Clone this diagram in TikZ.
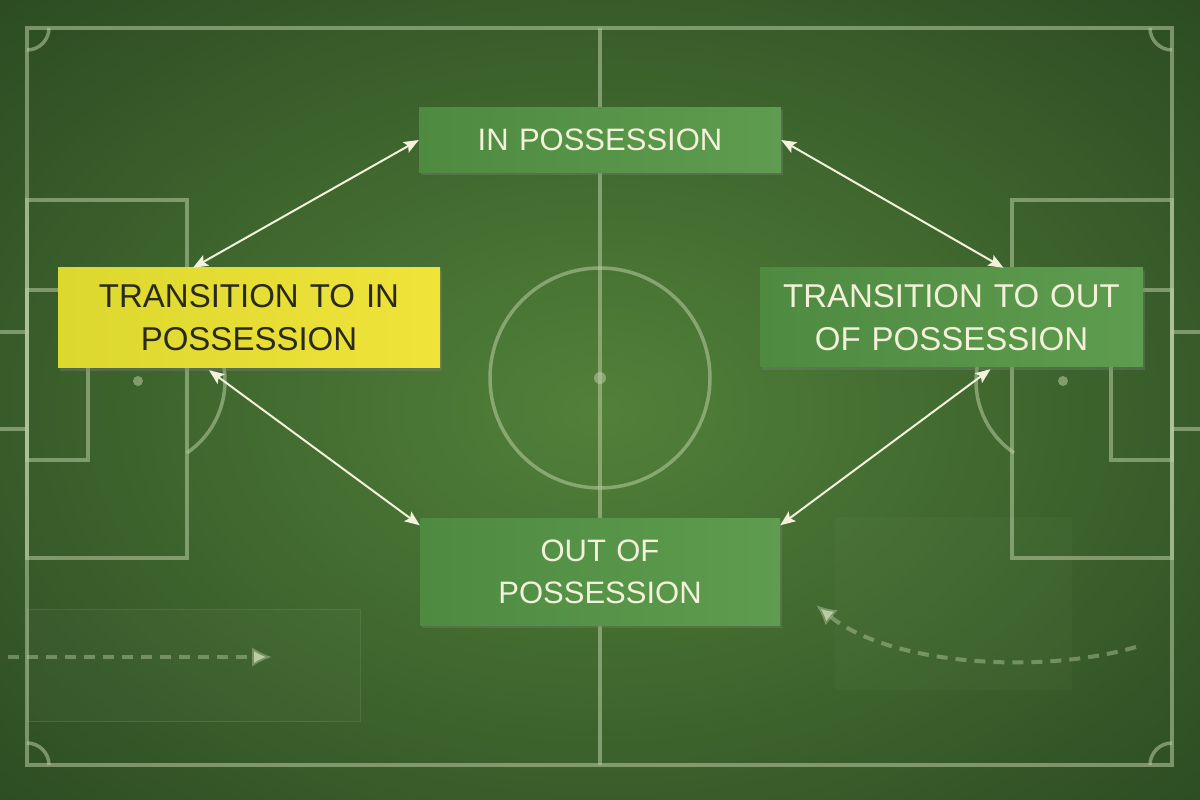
\documentclass[tikz,border=0pt]{standalone}
\usepackage{fontspec}
\setmainfont{Liberation Sans}
\usetikzlibrary{arrows.meta, shadows}
\definecolor{grass}{HTML}{52813A}
\definecolor{grassdark}{HTML}{0F2210}
\definecolor{chalk}{HTML}{B9CCA2}
\definecolor{boxgreen}{HTML}{4E8B41}
\definecolor{boxgreenlt}{HTML}{5E9C4F}
\definecolor{cream}{HTML}{F3F1DA}
\definecolor{lemonleft}{HTML}{DCD82E}
\definecolor{lemon}{HTML}{F0E33A}
\definecolor{ink}{HTML}{2A2A1C}
\tikzstyle{every node}=[font=\fontsize{31}{42}\selectfont]
\tikzstyle{block} = [rectangle, text centered, inner sep=0pt, drop shadow={opacity=0.35, shadow xshift=2pt, shadow yshift=-3pt}]
\tikzstyle{greenblock} = [block, left color=boxgreen, right color=boxgreenlt, text=cream]
\tikzstyle{yellowblock} = [block, left color=lemonleft, right color=lemon, text=ink]
\tikzstyle{bigtext} = [font=\fontsize{33}{43}\selectfont]
\tikzstyle{pitch} = [draw=chalk, draw opacity=0.55, line width=3.5pt]
\tikzstyle{hint} = [draw=chalk, draw opacity=0.45, line width=4pt, dash pattern=on 11pt off 8pt, -{Latex[length=20pt, width=20pt]}]
\tikzstyle{line} = [draw=cream, line width=2pt, {Stealth[length=15pt, width=12pt, inset=3pt]}-{Stealth[length=15pt, width=12pt, inset=3pt]}]

\begin{document}
\begin{tikzpicture}[x=1pt, y=1pt]
    % Grass
    \useasboundingbox (0,0) rectangle (1200,800);
    \begin{scope}
        \clip (0,0) rectangle (1200,800);
        \shade[inner color=grass, outer color=grassdark] (-900,-640) rectangle (2100,1420);
    \end{scope}
    \fill[white, opacity=0.025] (27,190) rectangle (360,78);
    \draw[chalk, opacity=0.15, line width=1pt] (27,190) rectangle (360,78);
    \fill[chalk, opacity=0.04] (835,283) rectangle (1072,110);
    % Pitch markings
    \path[pitch] (27,35) rectangle (1172,772);
    \path[pitch] (600,35) -- (600,772);
    \path[pitch] (600,422) circle (110);
    \fill[chalk, opacity=0.55] (600,422) circle (6);
    \path[pitch] (27,600) rectangle (187,242);
    \path[pitch] (27,510) rectangle (88,340);
    \path[pitch] (0,468) -- (27,468) (0,371) -- (27,371);
    \fill[chalk, opacity=0.55] (138,419) circle (5);
    \path[pitch] (138,419) ++(-55.7:87) arc[start angle=-55.7, end angle=55.7, radius=87];
    \path[pitch] (1012,600) rectangle (1172,242);
    \path[pitch] (1111,510) rectangle (1172,340);
    \path[pitch] (1172,468) -- (1200,468) (1172,371) -- (1200,371);
    \fill[chalk, opacity=0.55] (1063,419) circle (5);
    \path[pitch] (1063,419) ++(124.3:87) arc[start angle=124.3, end angle=235.7, radius=87];
    \path[pitch] (49,772) arc[start angle=0, end angle=-90, radius=22];
    \path[pitch] (1150,772) arc[start angle=180, end angle=270, radius=22];
    \path[pitch] (49,35) arc[start angle=0, end angle=90, radius=22];
    \path[pitch] (1150,35) arc[start angle=180, end angle=90, radius=22];
    % Runs
    \path[hint] (8,143) -- (272,143);
    \path[hint] (1136,153) .. controls (1040,125) and (890,135) .. (816,195);
    % Place nodes
    \node [greenblock, text width=362pt, minimum height=65pt] (inposs) at (600,660) {IN POSSESSION};
    \node [yellowblock, bigtext, text width=382pt, minimum height=100pt] (toin) at (249,482) {TRANSITION TO IN\\POSSESSION};
    \node [greenblock, bigtext, text width=383pt, minimum height=99pt] (toout) at (951.5,482.5) {TRANSITION TO OUT\\OF POSSESSION};
    \node [greenblock, text width=360pt, minimum height=107pt] (outposs) at (600,228) {OUT OF\\POSSESSION};
    % Draw edges
    \path [line] (inposs.west) -- ([xshift=-56pt]toin.north);
    \path [line] (inposs.east) -- ([xshift=52pt]toout.north);
    \path [line] ([xshift=-40pt, yshift=-2pt]toin.south) -- ([yshift=-7pt]outposs.north west);
    \path [line] ([xshift=39pt, yshift=-2pt]toout.south) -- ([yshift=-7pt]outposs.north east);
\end{tikzpicture}
\end{document}
